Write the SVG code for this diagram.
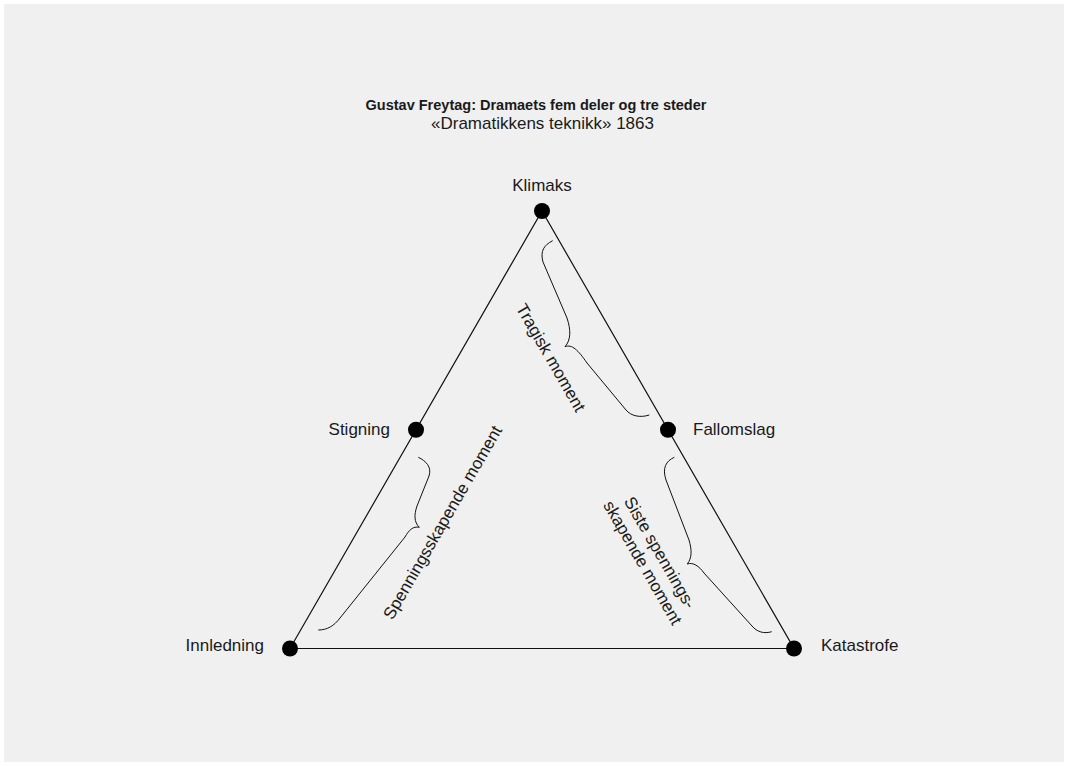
<svg xmlns="http://www.w3.org/2000/svg" width="1068" height="766" viewBox="0 0 1068 766">
<style>
.t{font-family:"Liberation Sans",Arial,sans-serif;font-size:17px;fill:#1a1a1a}
.b{font-weight:bold}
.ln{stroke:#111;stroke-width:1.2;fill:none}
.br{stroke:#111;stroke-width:1;fill:none}
.dot{fill:#000}
</style>
<rect x="0" y="0" width="1068" height="766" fill="#ffffff"/>
<rect x="4" y="4" width="1060" height="758" fill="#f0f0f0"/>
<g id="title">
<text class="t b" x="536" y="110" text-anchor="middle" style="font-size:14.5px">Gustav Freytag: Dramaets fem deler og tre steder</text>
<text class="t" x="542.5" y="129" text-anchor="middle" style="font-size:17px">«Dramatikkens teknikk» 1863</text>
</g>
<g id="connectors">
<path class="ln" d="M290,648.5 L542,211 L794,648.5 Z"/>
</g>
<g id="braces">
<path class="br" d="M552.7,240.7 C544,245 540,251 543,262 L567,318 C571,330 571,340 565,346.7 C572,344 578,350 587,363 L626,410 C631,416 640,418 649.3,415"/>
<path class="br" d="M418.3,457.3 C426,461 432,467 429,476 L417,506 C414,515 414,522 419.3,527.3 C413,526 409,530 405,537 L340,618 C334,626 327,630 318.3,630"/>
<path class="br" d="M674.3,457.3 C666,461 662,468 666,480 L689,540 C692,550 692,558 687.3,564 C693,562 699,566 704,573 L752,626 C757,632 764,634 771.7,631.7"/>
</g>
<g id="node-klimaks">
<circle class="dot" cx="542" cy="211" r="8"/>
<text class="t" x="542" y="191" text-anchor="middle">Klimaks</text>
</g>
<g id="node-stigning">
<circle class="dot" cx="416" cy="429.75" r="8"/>
<text class="t" x="390" y="435" text-anchor="end">Stigning</text>
</g>
<g id="node-fallomslag">
<circle class="dot" cx="668" cy="429.75" r="8"/>
<text class="t" x="693" y="435">Fallomslag</text>
</g>
<g id="node-innledning">
<circle class="dot" cx="290" cy="648.5" r="8"/>
<text class="t" x="264" y="651" text-anchor="end">Innledning</text>
</g>
<g id="node-katastrofe">
<circle class="dot" cx="794" cy="648.5" r="8"/>
<text class="t" x="821" y="651">Katastrofe</text>
</g>
<g id="labels">
<text class="t" transform="translate(551,357.5) rotate(60)" x="0" y="6" text-anchor="middle">Tragisk moment</text>
<text class="t" transform="translate(442.3,522.3) rotate(-60)" x="0" y="6" text-anchor="middle">Spenningsskapende moment</text>
<text class="t" transform="translate(651.5,557.5) rotate(60)" text-anchor="middle"><tspan x="0" y="-4">Siste spennings-</tspan><tspan x="0" y="16">skapende moment</tspan></text>
</g>
</svg>
